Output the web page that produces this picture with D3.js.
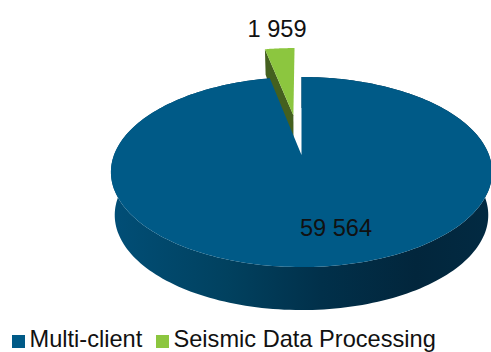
<!DOCTYPE html>
<html>
<head>
<meta charset="utf-8">
<script src="https://cdn.jsdelivr.net/npm/d3@7"></script>
<style>
  html, body { margin: 0; padding: 0; background: #fff; }
  svg { display: block; }
  text { font-family: "Liberation Sans", Arial, sans-serif; fill: #111; }
</style>
</head>
<body>
<svg id="chart" width="491" height="352"></svg>
<script>
const categories = ["Multi-client", "Seismic Data Processing"];
const values = [59564, 1959];
const topColors = ["#005a87", "#8cc63f"];
const explode = [0, 0.47];

const svg = d3.select("#chart");
const fmt = d3.formatLocale({ decimal: ".", thousands: " ", grouping: [3], currency: ["", ""] }).format(",");

// Perspective tilt of the pie disc: unit-disc coordinates to screen pixels
const cx = 301.5, cy = 155, spanX = 187.5, spanY = 92, tilt = 0.179;
const project = (u, v, z = 0) => {
  const w = 1 + tilt * v;
  const shrink = 1 - 0.02 * z;
  const depth = v < 0 ? 43 : 43 - 12 * v;
  return [
    cx + spanX * u / w * shrink,
    cy - spanY * v / w + z * depth
  ];
};

const arcs = d3.pie().sort(null).value(d => d)(values);

const rimPoints = (a, off, z, steps = 240) =>
  d3.range(steps + 1).map(i => {
    const t = a.startAngle + (a.endAngle - a.startAngle) * i / steps;
    return project(off[0] + Math.sin(t), off[1] + Math.cos(t), z);
  });

const line = d3.line();

const defs = svg.append("defs");
const wallGrad = defs.append("linearGradient")
  .attr("id", "wall").attr("gradientUnits", "userSpaceOnUse")
  .attr("x1", 115).attr("x2", 491).attr("y1", 0).attr("y2", 0);
[[0, "#014e76"], [0.3, "#01415f"], [0.55, "#01304a"], [0.8, "#02263c"], [1, "#022a42"]]
  .forEach(([o, c]) => wallGrad.append("stop").attr("offset", o).attr("stop-color", c));

const offsetOf = (a, i) => {
  const mid = (a.startAngle + a.endAngle) / 2;
  return [explode[i] * Math.sin(mid), explode[i] * Math.cos(mid)];
};

// Pulled-out slice goes first so the main body overlaps its dark cut face
{
  const a = arcs[1], off = offsetOf(a, 1);
  const apexTop = project(off[0], off[1], 0);
  const apexLow = project(off[0], off[1], 1);
  const t0 = a.startAngle;
  const leftTop = project(off[0] + Math.sin(t0), off[1] + Math.cos(t0), 0);
  const leftLow = project(off[0] + Math.sin(t0), off[1] + Math.cos(t0), 1);
  svg.append("path")
    .attr("d", line([leftTop, apexTop, apexLow, leftLow]) + "Z")
    .attr("fill", "#44601f");
  svg.append("path")
    .attr("d", line([apexTop, ...rimPoints(a, off, 0, 24)]) + "Z")
    .attr("fill", topColors[1]);
}

// Main body: outer wall, then top face
{
  const a = arcs[0], off = offsetOf(a, 0);
  const upper = rimPoints(a, off, 0);
  const lower = rimPoints(a, off, 1);
  svg.append("path")
    .attr("d", line([...upper, ...lower.reverse()]) + "Z")
    .attr("fill", "url(#wall)");
  svg.append("path")
    .attr("d", line([project(off[0], off[1], 0), ...upper]) + "Z")
    .attr("fill", topColors[0]);
}

// Value labels
const labelPos = [[336, 236], [277, 37]];
svg.selectAll("text.value").data(values).join("text")
  .attr("class", "value")
  .attr("x", (d, i) => labelPos[i][0])
  .attr("y", (d, i) => labelPos[i][1])
  .attr("text-anchor", "middle")
  .attr("font-size", 23.6)
  .text(d => fmt(d));

// Legend
const legendX = [12, 156];
const legend = svg.selectAll("g.legend").data(categories).join("g")
  .attr("class", "legend")
  .attr("transform", (d, i) => `translate(${legendX[i]},335)`);
legend.append("rect").attr("width", 13).attr("height", 13).attr("fill", (d, i) => topColors[i]);
legend.append("text").attr("x", 17.5).attr("y", 11.5).attr("font-size", 23.6).text(d => d);
</script>
</body>
</html>
